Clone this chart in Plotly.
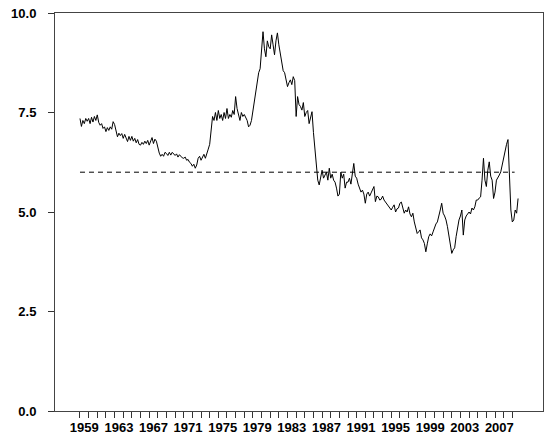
import plotly.graph_objects as go

# ---- data (bimonthly readings: Jan, Mar, May, Jul, Sep, Nov) ----
years = list(range(1959, 2010))
rate_1959_1968 = [
    7.35, 7.15, 7.30, 7.22, 7.35, 7.28,   # 1959
    7.35, 7.22, 7.38, 7.26, 7.40, 7.30,   # 1960
    7.44, 7.25, 7.18, 7.22, 7.10, 7.14,   # 1961
    7.02, 7.12, 7.05, 7.14, 7.08, 7.27,   # 1962
    7.20, 7.00, 6.89, 6.98, 6.92, 6.97,   # 1963
    6.85, 6.95, 6.88, 6.77, 6.90, 6.80,   # 1964
    6.90, 6.78, 6.85, 6.74, 6.82, 6.70,   # 1965
    6.68, 6.75, 6.70, 6.78, 6.72, 6.80,   # 1966
    6.68, 6.80, 6.87, 6.72, 6.83, 6.78,   # 1967
    6.60, 6.48, 6.40, 6.45, 6.40, 6.50,   # 1968
]
rate_1969_1978 = [
    6.47, 6.42, 6.50, 6.43, 6.50, 6.45,   # 1969
    6.42, 6.46, 6.38, 6.44, 6.40, 6.36,   # 1970
    6.35, 6.38, 6.30, 6.32, 6.25, 6.22,   # 1971
    6.15, 6.20, 6.10, 6.18, 6.35, 6.40,   # 1972
    6.30, 6.38, 6.45, 6.35, 6.50, 6.58,   # 1973
    6.70, 7.00, 7.40, 7.30, 7.50, 7.30,   # 1974
    7.55, 7.35, 7.45, 7.30, 7.50, 7.35,   # 1975
    7.60, 7.35, 7.45, 7.38, 7.55, 7.45,   # 1976
    7.90, 7.60, 7.45, 7.30, 7.50, 7.40,   # 1977
    7.45, 7.35, 7.30, 7.14, 7.18, 7.30,   # 1978
]
rate_1979_1988 = [
    7.55, 7.85, 8.05, 8.30, 8.50, 8.60,   # 1979
    9.00, 9.53, 9.10, 8.90, 9.30, 9.15,   # 1980
    9.10, 9.45, 9.20, 8.95, 9.30, 9.50,   # 1981
    9.20, 8.95, 8.75, 8.55, 8.50, 8.35,   # 1982
    8.15, 8.25, 8.32, 8.20, 8.40, 8.30,   # 1983
    7.40, 7.90, 7.70, 7.65, 7.56, 7.75,   # 1984
    7.40, 7.50, 7.55, 7.22, 7.35, 7.52,   # 1985
    7.00, 6.60, 6.30, 5.80, 5.68, 5.90,   # 1986
    6.05, 5.85, 5.95, 6.00, 5.80, 6.10,   # 1987
    5.85, 5.95, 5.80, 5.75, 5.60, 5.40,   # 1988
]
rate_1989_1998 = [
    5.45, 6.00, 5.85, 5.95, 5.60, 5.75,   # 1989
    5.75, 5.85, 5.70, 5.95, 6.22, 5.90,   # 1990
    5.85, 5.70, 5.60, 5.50, 5.55, 5.45,   # 1991
    5.22, 5.45, 5.50, 5.40, 5.48, 5.55,   # 1992
    5.64, 5.26, 5.40, 5.38, 5.30, 5.32,   # 1993
    5.40, 5.30, 5.25, 5.22, 5.15, 5.10,   # 1994
    5.05, 5.12, 5.18, 5.00, 5.08, 5.10,   # 1995
    5.22, 5.25, 5.10, 4.97, 5.05, 5.00,   # 1996
    5.13, 4.95, 4.88, 4.97, 4.75, 4.60,   # 1997
    4.46, 4.50, 4.55, 4.35, 4.30, 4.21,   # 1998
]
rate_1999_2009 = [
    4.00, 4.20, 4.38, 4.45, 4.40, 4.50,   # 1999
    4.63, 4.70, 4.75, 4.88, 5.05, 5.22,   # 2000
    4.97, 4.90, 4.80, 4.63, 4.40, 4.20,   # 2001
    3.96, 4.05, 4.10, 4.38, 4.63, 4.80,   # 2002
    4.90, 5.05, 4.42, 4.80, 4.90, 4.95,   # 2003
    5.00, 4.95, 5.10, 5.05, 5.13, 5.30,   # 2004
    5.30, 5.35, 5.38, 5.80, 6.35, 5.80,   # 2005
    5.64, 6.05, 6.26, 5.90, 5.80, 5.34,   # 2006
    5.50, 5.80, 5.85, 5.93, 6.01, 6.20,   # 2007
    6.35, 6.56, 6.70, 6.82, 6.00, 5.05,   # 2008
    4.75, 4.80, 5.05, 4.97, 5.34,         # 2009
]
reference_level = 6.0
tick_label_years = list(range(1959, 2010, 4))

values = rate_1959_1968 + rate_1969_1978 + rate_1979_1988 + rate_1989_1998 + rate_1999_2009
x = [y + k / 6 for y in years for k in range(6)][:len(values)]

font = dict(family="Liberation Sans, Arial, sans-serif", size=13, color="black", weight="bold")
xr = [1956.11, 2012.55]

fig = go.Figure()
fig.add_trace(go.Scatter(x=x, y=values, mode="lines",
                         line=dict(color="black", width=1), showlegend=False, hoverinfo="skip"))
fig.add_trace(go.Scatter(x=[x[0], x[-1] - 0.4], y=[reference_level, reference_level], mode="lines",
                         line=dict(color="black", width=1, dash="5px,4px"), showlegend=False))
# invisible trace on xaxis2 so its labels render
fig.add_trace(go.Scatter(x=[x[0]], y=[reference_level], xaxis="x2", mode="lines",
                         line=dict(width=0), showlegend=False, hoverinfo="skip"))

fig.update_layout(
    width=558, height=446,
    margin=dict(l=55, r=15, t=13, b=35, autoexpand=False),
    paper_bgcolor="white", plot_bgcolor="white",
    font=font,
    xaxis=dict(range=xr, tickvals=years, ticktext=[""] * len(years),
               ticks="outside", ticklen=6, tickwidth=1, tickcolor="#333",
               showline=True, mirror=True, linecolor="#444", linewidth=1,
               showgrid=False, zeroline=False, automargin=False),
    xaxis2=dict(range=xr, overlaying="x", anchor="y", side="bottom",
                tickvals=[y + 0.5 for y in tick_label_years],
                ticktext=[str(y) for y in tick_label_years],
                ticks="outside", ticklen=4, tickcolor="rgba(0,0,0,0)",
                showline=False, showgrid=False, zeroline=False, tickfont=font,
                automargin=False, ticklabeloverflow="allow"),
    yaxis=dict(range=[0, 10], tickvals=[0, 2.5, 5, 7.5, 10],
               ticktext=["0.0", "2.5", "5.0", "7.5", "10.0"],
               ticks="outside", ticklen=6, tickwidth=1, tickcolor="#333",
               showline=True, mirror=True, linecolor="#444", linewidth=1,
               showgrid=False, zeroline=False, tickfont=font, ticklabelstandoff=9,
               automargin=False, ticklabeloverflow="allow"),
)

fig.write_html("out.html", config={"displayModeBar": False},
               post_script="document.body.style.margin='0';")
